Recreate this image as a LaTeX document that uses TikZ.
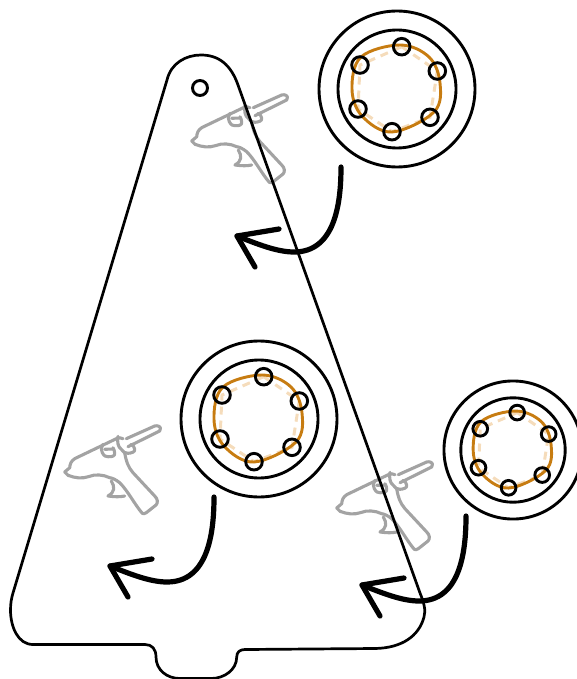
\documentclass[tikz,border=0pt]{standalone}
\usepackage{xcolor}
\usepackage{tikz}
\definecolor{ringorange}{HTML}{C77C11}
\definecolor{guidepeach}{HTML}{F5DCBB}
\definecolor{gungray}{HTML}{A3A3A3}

\begin{document}
\begin{tikzpicture}[
    x=1pt, y=-1pt,
    outline/.style={draw=black, line width=2.7pt, line join=round},
    ring/.style={draw=black, line width=2.9pt},
    wobble/.style={draw=ringorange, line width=2.9pt},
    guide/.style={draw=guidepeach, line width=3pt, dash pattern=on 8pt off 6pt},
    gunline/.style={draw=gungray, line width=3.1pt, line join=round, line cap=round},
    bigarrow/.style={draw=black, line width=5.2pt, line cap=round, line join=round},
    holes/.pic={
        \draw[ring] (0,0) circle (78);
        \draw[ring] (0,0) circle (59);
        \draw[guide] (4.7,-42.3) -- (40.3,-18) -- (33,28.3) -- (-5,42.7) -- (-39,20) -- (-37,-24) -- cycle;
        \draw[wobble] plot[smooth cycle, tension=0.6] coordinates {(3,-44) (32,-32) (43,-6)
            (37,23) (-5,43) (-35,27) (-45,0) (-36,-32)};
        \foreach \hx/\hy in {4.7/-42.3, 40.3/-18, 33/28.3, -5/42.7, -39/20, -37/-24}
            \draw[ring] (\hx,\hy) circle (8.3);
    },
    gluegun/.pic={
        % body and handle
        \draw[gunline] (-48.3,1) -- (-43.3,-3.3) .. controls (-43,-7) and (-42,-10) .. (-38,-12.5)
            -- (3.3,-32.3) .. controls (6,-33.5) and (8,-33.5) .. (10,-32.3);
        \draw[gunline] (11.7,-18.3) .. controls (13,-10) and (15,-4) .. (20,1.7) -- (41.7,25)
            .. controls (45,28) and (45,32) .. (43,34) -- (33.3,41.7) .. controls (31.5,43) and (30,43) .. (29.3,42.3)
            .. controls (22,34) and (15,20) .. (6.7,11.7) .. controls (2,8) and (-1,7) .. (-3.3,6.7)
            .. controls (-10,3.5) and (-18,3) .. (-24,5.5) .. controls (-31,8) and (-38,7) .. (-45,4.3) -- (-48.3,1);
        % trigger
        \draw[gunline] (-1.7,10) .. controls (2,16) and (2,21) .. (-5,25) .. controls (2,26) and (7,26) .. (11.7,25);
        % barrel
        \draw[gunline] (13.3,-32.3) -- (41.7,-45) .. controls (45,-46) and (48,-44) .. (47.3,-42.3)
            .. controls (47.5,-41) and (47,-40.5) .. (46.7,-40) -- (15,-24.3);
        % collars
        \draw[gunline] (5,-34.7) .. controls (4,-29) and (5,-24) .. (8.3,-21.7)
            .. controls (10,-19) and (12,-17.5) .. (15,-17.7) .. controls (19,-18) and (22,-19) .. (21.7,-21.7)
            .. controls (21.5,-24) and (20,-26) .. (18,-26.7);
        \draw[gunline] (-10,-26.7) .. controls (-12,-23) and (-12,-20) .. (-10.7,-18.3)
            .. controls (-9,-15) and (-7,-14) .. (-5,-14.3) .. controls (-1,-14) and (2,-15) .. (1.7,-17.7)
            .. controls (1.5,-20) and (1,-22) .. (0,-23.3);
        \draw[gunline] (-8.3,-21.7) -- (0,-22);
    },
    swoop/.pic={
        \draw[bigarrow] (104,-69) .. controls (104,-30) and (97,16) .. (57,16)
            .. controls (40,16) and (20,8) .. (0,0);
        \draw[bigarrow] (42,-7) -- (0,0) -- (18,31);
    }
]
\useasboundingbox (0,0) rectangle (577,679);

% guns first, the card edge runs over them
\pic at (240,140) {gluegun};
\pic at (113,471) {gluegun};
\pic at (385,507) {gluegun};

% card
\draw[outline] (167,80) .. controls (171,63) and (186,55) .. (201,55)
    .. controls (219,55) and (231,65) .. (238,85)
    -- (420,593) .. controls (424,603) and (426,610) .. (424,617)
    .. controls (419,636) and (402,648) .. (375,648.5) -- (245,649.5)
    .. controls (240,649.5) and (236.7,652) .. (236.7,657)
    .. controls (236.7,670) and (224,678.5) .. (211,678.5) -- (180,678.5)
    .. controls (167,678.5) and (156,670) .. (156,657)
    .. controls (156,649) and (152,644.5) .. (145,644.5) -- (33,644.5)
    .. controls (18,644.5) and (10.5,627) .. (10.5,610)
    .. controls (10.5,603) and (11.5,598) .. (13,593) -- cycle;
\draw[ring] (200,88) circle (7.5);

% rings
\pic at (397,89) {holes};
\pic at (259,419) {holes};
\pic[scale=0.885] at (513,450) {holes};

% arrows
\pic at (237,236) {swoop};
\pic at (110,566) {swoop};
\pic at (362,585) {swoop};

\end{tikzpicture}
\end{document}
